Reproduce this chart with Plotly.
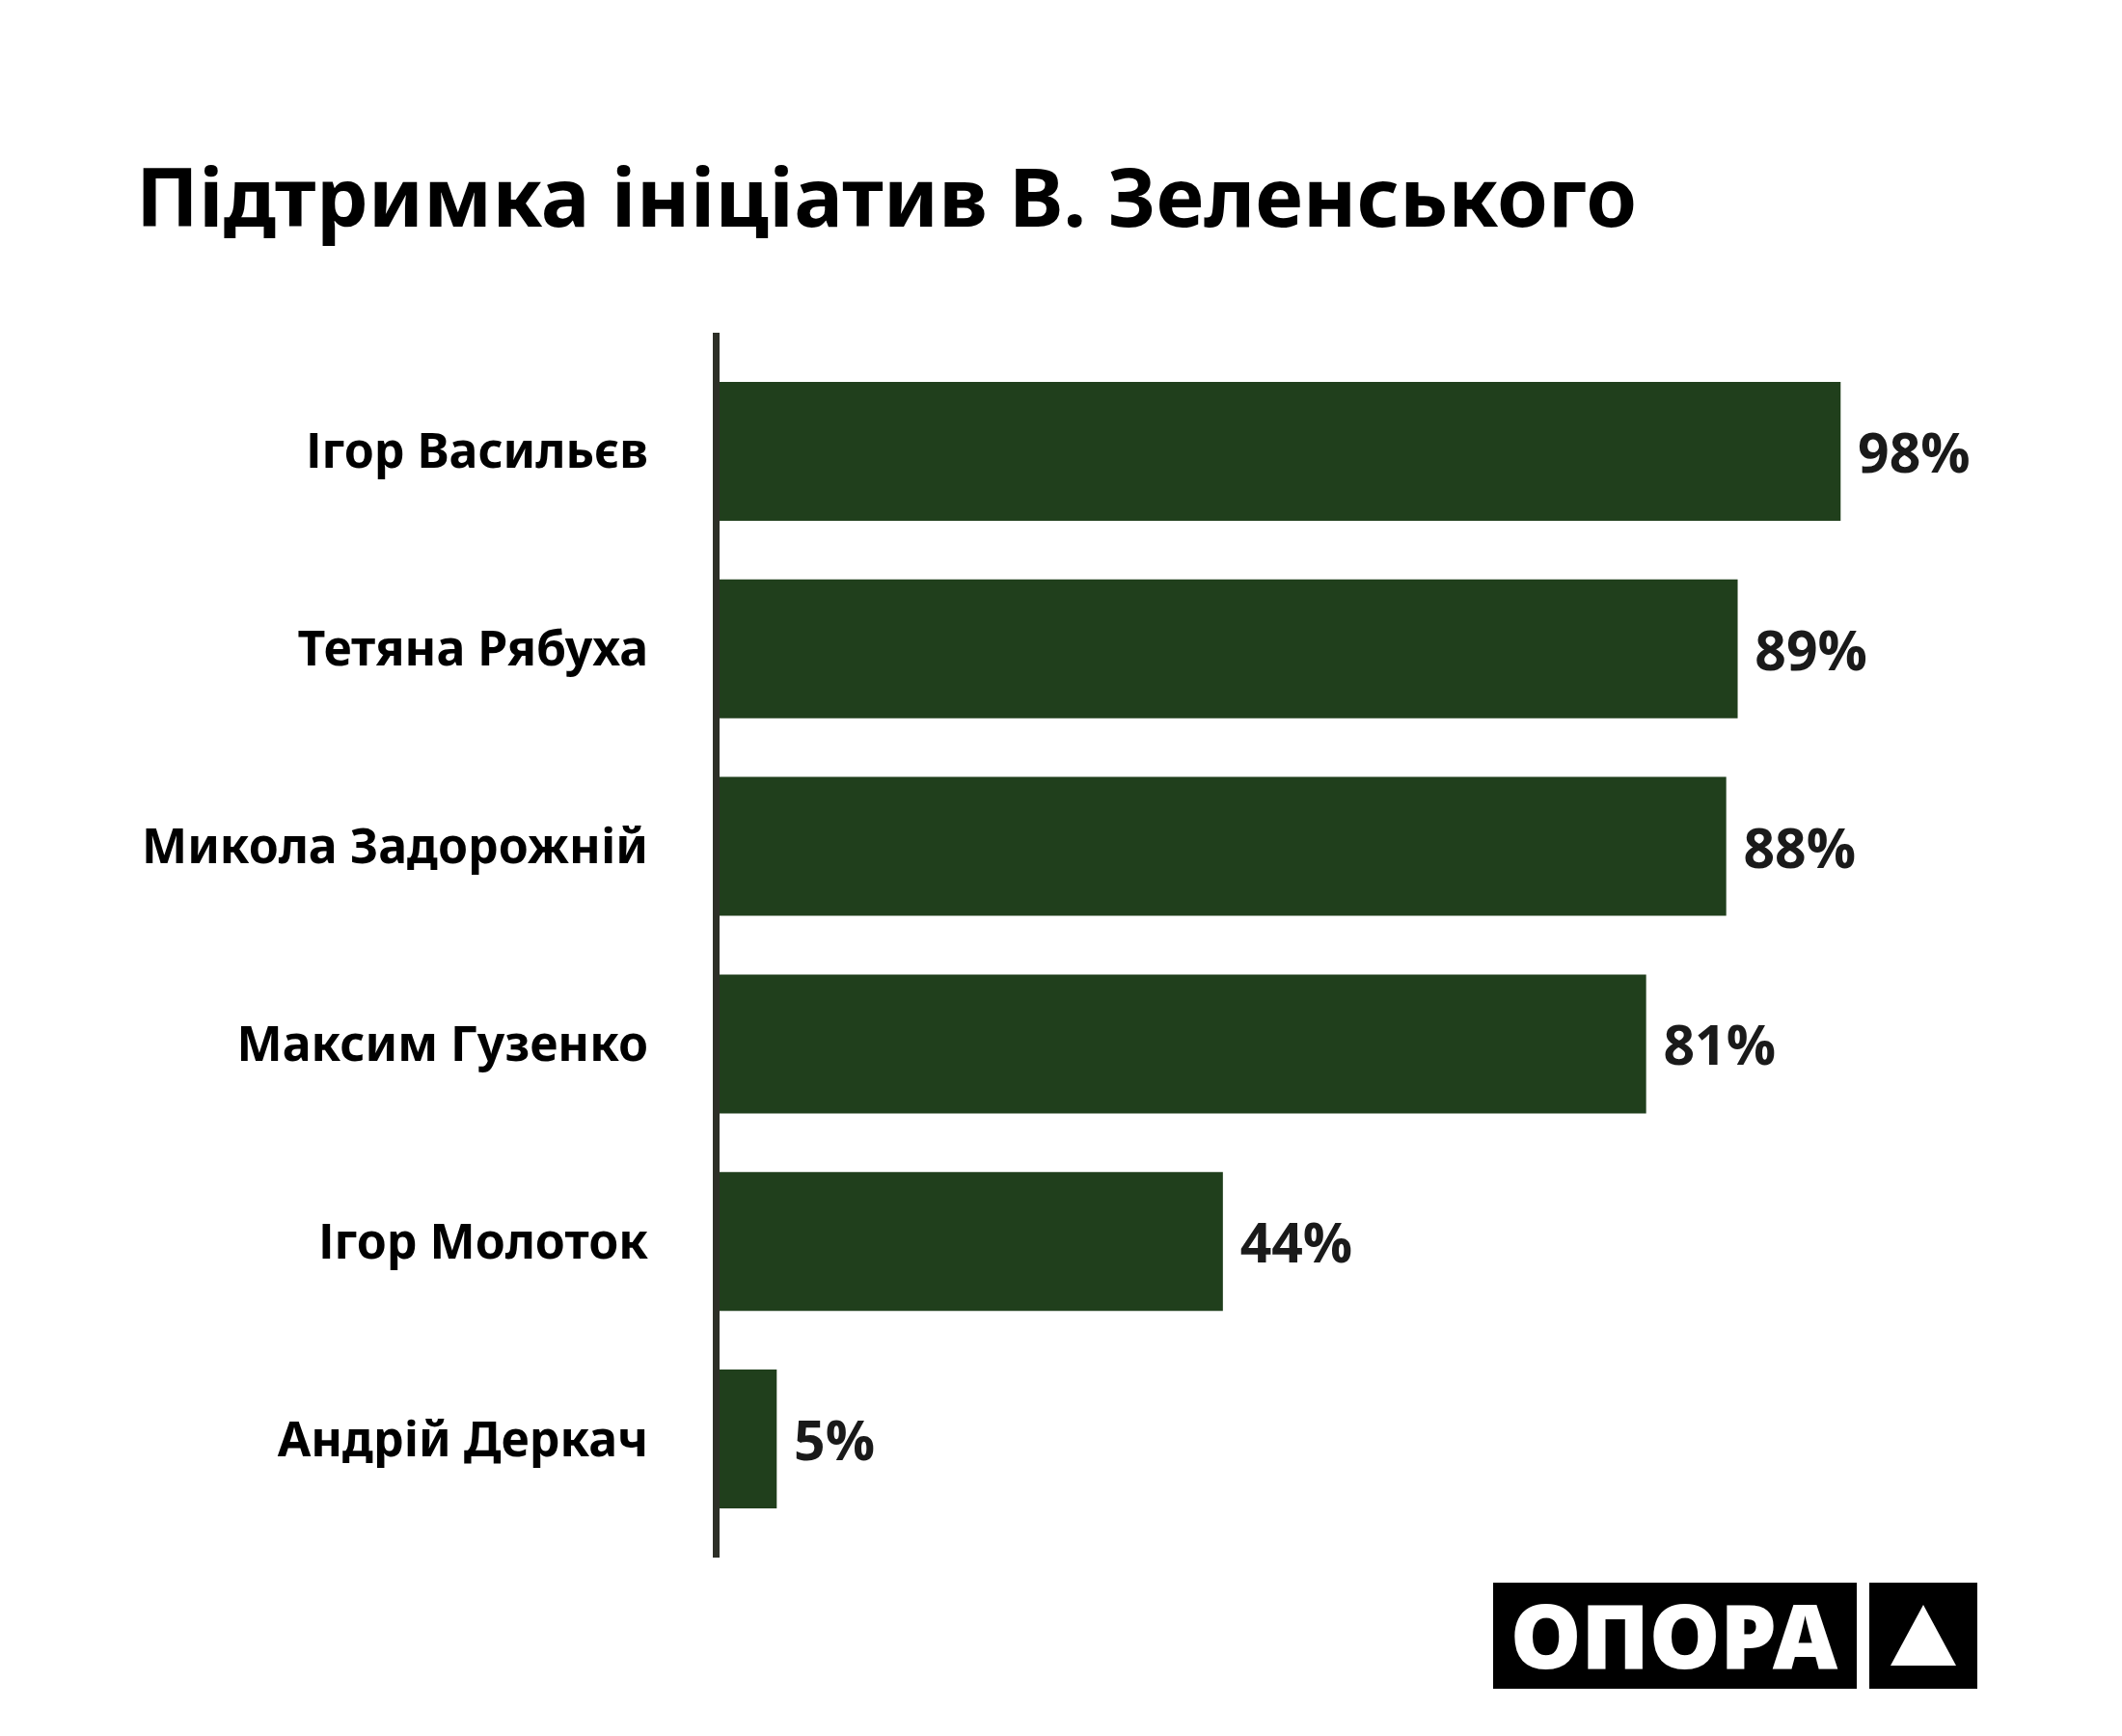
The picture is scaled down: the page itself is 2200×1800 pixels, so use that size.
import plotly.graph_objects as go

# дані
names = ["Ігор Васильєв", "Тетяна Рябуха", "Микола Задорожній",
         "Максим Гузенко", "Ігор Молоток", "Андрій Деркач"]
support = [98, 89, 88, 81, 44, 5]
labels = ["\u00a0" + str(v) + "%" for v in support]

W, H = 2200, 1800
L, R, T, B = 738, 276, 337, 193
GREEN = "#203F1C"


def px(x, y):
    # пікселі сторінки -> координати paper
    return (x - L) / (W - L - R), 1 - (y - T) / (H - T - B)


fig = go.Figure()
fig.add_trace(go.Bar(
    x=support,
    y=names,
    orientation="h",
    marker=dict(color=GREEN, line=dict(width=0)),
    text=labels,
    textposition="outside",
    textfont=dict(family="Open Sans", size=57, color="#1a1a1a", weight="bold"),
    cliponaxis=False,
    hoverinfo="skip",
))

# логотип ОПОРА
x0, y0 = px(1540, 1633)
x1, y1 = px(1917, 1743)
x2, _ = px(1930, 1633)
x3, _ = px(2042, 1633)
shapes = [
    dict(type="rect", xref="paper", yref="paper", x0=x0, y0=y0, x1=x1, y1=y1,
         fillcolor="black", line=dict(width=0), layer="above"),
    dict(type="rect", xref="paper", yref="paper", x0=x2, y0=y0, x1=x3, y1=y1,
         fillcolor="black", line=dict(width=0), layer="above"),
]
ax, ay = px(1986, 1656)
bx, by = px(1952, 1719)
cx, cy = px(2020, 1719)
shapes.append(dict(type="path", xref="paper", yref="paper",
                   path="M %f %f L %f %f L %f %f Z" % (ax, ay, bx, by, cx, cy),
                   fillcolor="white", line=dict(width=0), layer="above"))

tx, ty = px(1728, 1686)
fig.add_annotation(xref="paper", yref="paper", x=tx, y=ty, text="ОПОРА",
                   showarrow=False, xanchor="center", yanchor="middle",
                   font=dict(family="Noto Sans", size=93, color="white", weight=900))

fig.update_layout(
    width=W, height=H,
    margin=dict(l=L, r=R, t=T, b=B),
    paper_bgcolor="white", plot_bgcolor="white",
    bargap=0.297,
    showlegend=False,
    shapes=shapes,
    title=dict(text="<b>Підтримка ініціатив В. Зеленського</b>",
               xref="container", yref="container",
               x=133 / W, xanchor="left", y=1 - 197 / H, yanchor="middle",
               font=dict(family="Noto Sans", size=85, color="black")),
    xaxis=dict(range=[0, 100], visible=False, fixedrange=True),
    yaxis=dict(type="category", categoryorder="array", categoryarray=names,
               range=[5.6, -0.6], showline=True, linecolor="#2d2f27", linewidth=7,
               showgrid=False, zeroline=False, ticks="", ticklabelstandoff=57,
               tickfont=dict(family="Noto Sans", size=50, color="black", weight="bold")),
)

fig.write_html("out.html")
